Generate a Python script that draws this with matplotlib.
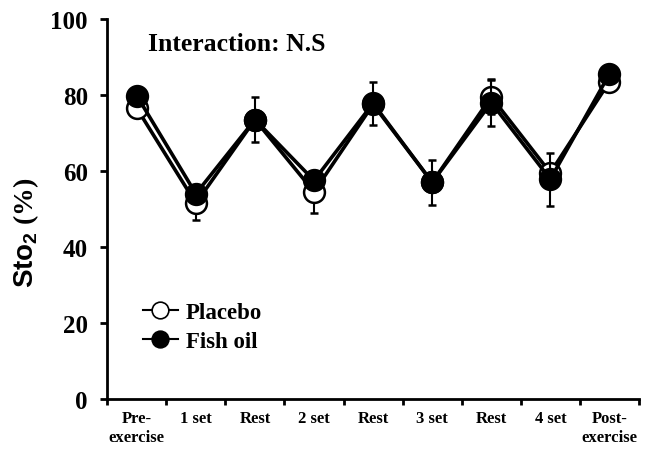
import matplotlib
matplotlib.use("Agg")
import matplotlib.pyplot as plt
from matplotlib.lines import Line2D
import numpy as np

categories = ["Pre-\nexercise", "1 set", "Rest", "2 set", "Rest", "3 set", "Rest", "4 set", "Post-\nexercise"]
placebo = [76.5, 51.5, 73.5, 54.5, 77.5, 57.0, 79.5, 59.5, 83.5]
fish_oil = [79.8, 54.0, 73.5, 57.5, 77.8, 57.0, 78.0, 57.8, 85.5]
placebo_err = [0, 4.5, 0, 5.5, 0, 0, 4.5, 0, 0]
fish_err = [0, 0, 6.0, 0, 5.6, 6.0, 6.3, 7.0, 0]
y_ticks = [0, 20, 40, 60, 80, 100]

plt.rcParams['font.family'] = ['Liberation Serif', 'DejaVu Serif']
plt.rcParams['mathtext.fontset'] = 'custom'
plt.rcParams['mathtext.rm'] = 'Liberation Serif:bold'
plt.rcParams['mathtext.bf'] = 'Liberation Serif:bold'
plt.rcParams['mathtext.sf'] = 'Liberation Sans:bold'

fig = plt.figure(figsize=(6.5, 4.52), dpi=100)
ax = fig.add_axes([0.165, 0.115, 0.818, 0.841])

x = np.arange(len(categories)) + 0.5
ax.errorbar(x, placebo, yerr=placebo_err, fmt='-o', color='black', lw=2.6,
            ms=15, mfc='white', mec='black', mew=1.8, ecolor='black',
            elinewidth=1.5, capsize=3, capthick=1.5, zorder=3)
ax.errorbar(x, fish_oil, yerr=fish_err, fmt='-o', color='black', lw=2.6,
            ms=15, mfc='black', mec='black', mew=1.8, ecolor='black',
            elinewidth=1.5, capsize=3, capthick=1.5, zorder=4)

ax.set_xlim(0, len(categories))
ax.set_ylim(0, 100)
ax.set_yticks(y_ticks)
ax.set_yticklabels([str(v) for v in y_ticks], fontsize=18, fontweight='bold')
ax.set_xticks(np.arange(len(categories) + 1))
ax.set_xticklabels([])
ax.set_xticks(x, minor=True)
ax.set_xticklabels(categories, minor=True, fontsize=12, fontweight='bold', va='top')
ax.tick_params(axis='x', which='major', direction='out', length=4, width=2)
ax.tick_params(axis='x', which='minor', length=0, pad=8)
ax.tick_params(axis='y', direction='out', length=5, width=2, pad=9)

for s in ['top', 'right']:
    ax.spines[s].set_visible(False)
for s in ['left', 'bottom']:
    ax.spines[s].set_linewidth(2)

ax.set_ylabel(r"$\mathsf{Sto_2}$ (%)", fontsize=20, fontweight='bold')
ax.yaxis.set_label_coords(-0.125, 0.44)

ax.text(0.077, 0.934, "Interaction: N.S", transform=ax.transAxes, fontsize=18.5,
        fontweight='bold', va='center', ha='left')

handles = [
    Line2D([], [], color='black', lw=1.5, marker='o', ms=12, mfc='white', mec='black', mew=1.2),
    Line2D([], [], color='black', lw=1.5, marker='o', ms=12, mfc='black', mec='black', mew=1.2),
]
leg = ax.legend(handles, ["Placebo", "Fish oil"], loc='center left',
                bbox_to_anchor=(0.046, 0.19), frameon=False,
                prop={'size': 16.5, 'weight': 'bold'}, handlelength=1.5, handletextpad=0.35,
                labelspacing=0.35, borderpad=0)

fig.savefig("out.png", dpi=100)
